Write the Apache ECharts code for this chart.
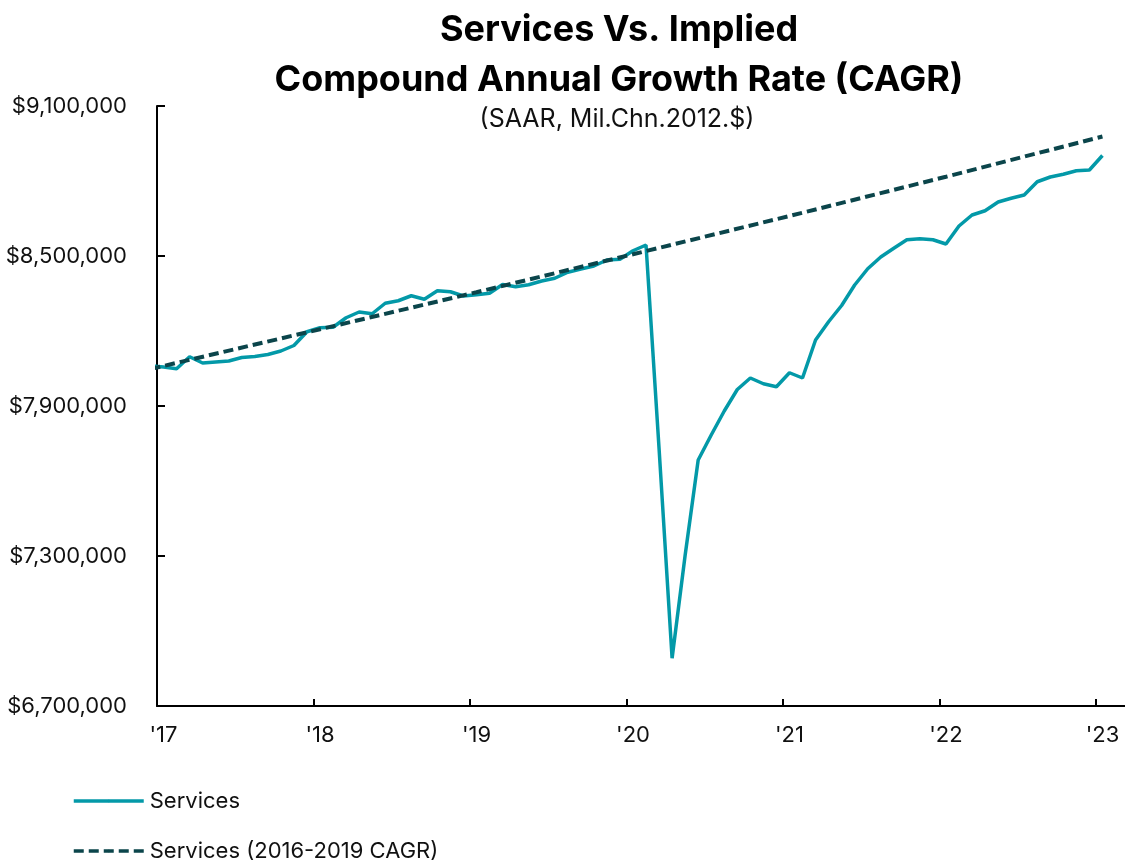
<!DOCTYPE html>
<html>
<head>
<meta charset="utf-8">
<script src="https://cdn.jsdelivr.net/npm/echarts@6/dist/echarts.min.js"></script>
<style>
html,body{margin:0;padding:0;background:#fff;}
#chart{width:1125px;height:865px;}
</style>
</head>
<body>
<div id="chart"></div>
<script>
// Month index 0 = Jan 2017 ... 72 = Jan 2023
const yearLabels = ["'17", "'18", "'19", "'20", "'21", "'22", "'23"];
const servicesDec2016 = 8060000;
const services = [
  8056000, 8049000, 8097000, 8072000, 8076000, 8080000, 8094000, 8098000, 8106000, 8120000, 8142000, 8197000,
  8213000, 8215000, 8253000, 8276000, 8269000, 8311000, 8321000, 8341000, 8327000, 8361000, 8357000, 8340000,
  8345000, 8351000, 8386000, 8377000, 8385000, 8400000, 8411000, 8435000, 8448000, 8460000, 8484000, 8487000,
  8521000, 8544000, 7730000, 6891000, 7303000, 7684000, 7784000, 7880000, 7966000, 8012000, 7989000, 7977000,
  8033000, 8012000, 8164000, 8237000, 8302000, 8384000, 8449000, 8496000, 8531000, 8565000, 8569000, 8565000,
  8548000, 8620000, 8664000, 8681000, 8716000, 8731000, 8744000, 8797000, 8816000, 8827000, 8841000, 8844000,
  8902000
];
const cagrMonth = [-1, 12, 24, 36, 48, 60, 72];
const cagrValues = [8048000, 8207000, 8355000, 8507000, 8660000, 8817000, 8978000];
const yMin = 6700000, yMax = 9100000, yStep = 600000;

const servicesData = [[-1, servicesDec2016]].concat(services.map((v, i) => [i, v]));
const cagrData = cagrMonth.map((m, i) => [m, cagrValues[i]]);
const labelPos = yearLabels.map((_, i) => i * 12);
const tickPos = yearLabels.map((_, i) => i * 12 - 0.5);

const FONT = 'Inter';
const chart = echarts.init(document.getElementById('chart'), null, {renderer: 'canvas'});
chart.setOption({
  animation: false,
  backgroundColor: '#ffffff',
  title: [{
    text: 'Services Vs. Implied\nCompound Annual Growth Rate (CAGR)',
    left: 614, top: 0, textAlign: 'center',
    textStyle: {fontFamily: FONT, fontWeight: 'bold', fontSize: 36, lineHeight: 50, color: '#000'}
  }, {
    text: '(SAAR, Mil.Chn.2012.$)',
    left: 612, top: 102, textAlign: 'center',
    textStyle: {fontFamily: FONT, fontWeight: 'normal', fontSize: 25, color: '#111'}
  }],
  legend: {
    orient: 'vertical', left: 72, top: 789, padding: 0,
    itemWidth: 70, itemHeight: 3, itemGap: 26,
    lineStyle: {width: 3.5},
    textStyle: {fontFamily: FONT, fontSize: 22, color: '#111', lineHeight: 24, padding: [0, 0, 0, 1]},
    data: ['Services', 'Services (2016-2019 CAGR)']
  },
  grid: {left: 157, right: 0, top: 106, bottom: 159, containLabel: false},
  xAxis: {
    type: 'value', min: -0.5, max: 73.73,
    splitLine: {show: false},
    axisLine: {show: true, onZero: false, lineStyle: {color: '#000', width: 2}},
    axisTick: {show: true, inside: true, length: 7, lineStyle: {color: '#000', width: 2}, customValues: tickPos},
    axisLabel: {
      customValues: labelPos, margin: 18,
      fontFamily: FONT, fontSize: 22, color: '#111',
      formatter: v => yearLabels[Math.round(v / 12)]
    }
  },
  yAxis: {
    type: 'value', min: yMin, max: yMax, interval: yStep,
    splitLine: {show: false},
    axisLine: {show: true, onZero: false, lineStyle: {color: '#000', width: 2}},
    axisTick: {show: true, inside: true, length: 8, lineStyle: {color: '#000', width: 2}},
    axisLabel: {
      margin: 30, fontFamily: FONT, fontSize: 22, color: '#111',
      formatter: v => '$' + v.toLocaleString('en-US')
    }
  },
  series: [{
    name: 'Services', type: 'line', data: servicesData,
    symbol: 'none', clip: true,
    lineStyle: {color: '#0399A8', width: 3.5},
    itemStyle: {color: '#0399A8'},
    z: 3
  }, {
    name: 'Services (2016-2019 CAGR)', type: 'line', data: cagrData,
    symbol: 'none', clip: true,
    lineStyle: {color: '#0B454B', width: 4, type: [10, 5]},
    itemStyle: {color: '#0B454B'},
    z: 4
  }]
});
</script>
</body>
</html>
